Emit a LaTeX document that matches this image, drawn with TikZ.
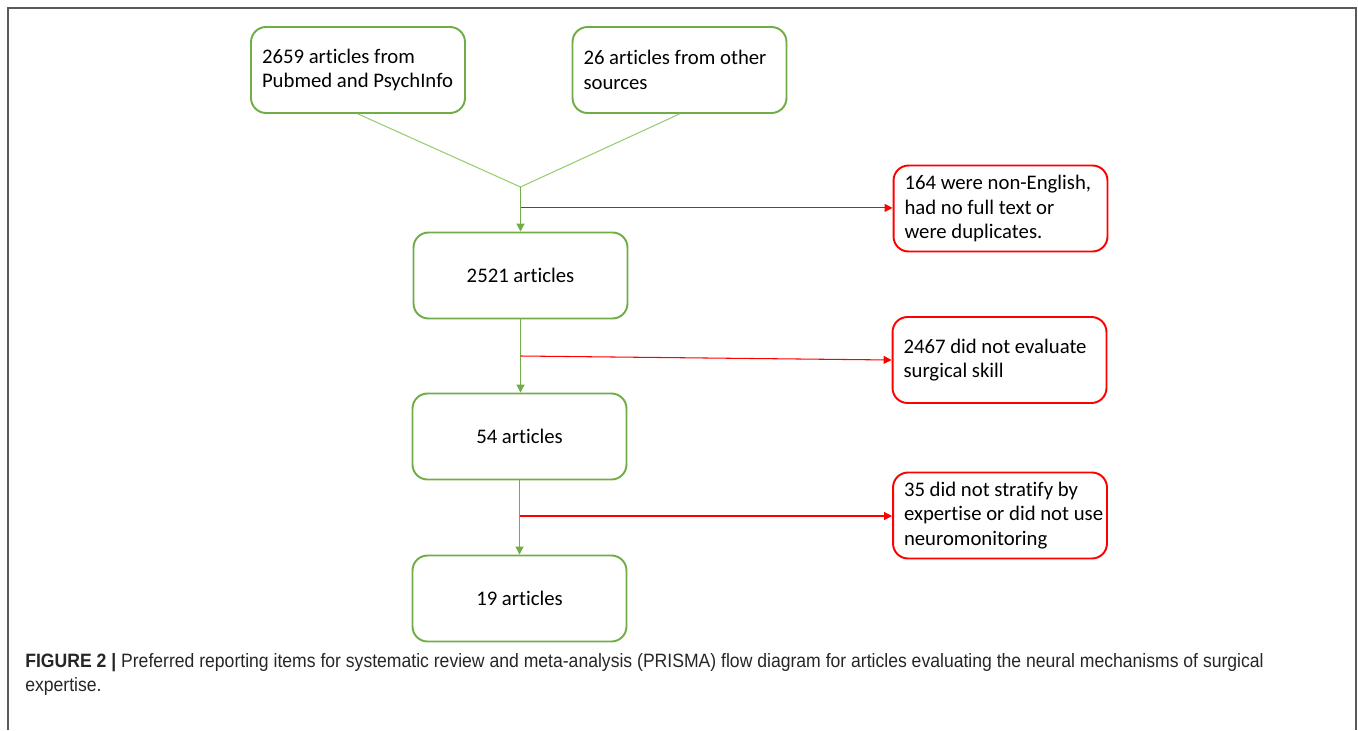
\documentclass[tikz,border=0pt]{standalone}
\usepackage{fontspec}
\setmainfont[Ligatures=NoCommon]{Carlito}
\newfontfamily\capfont[FakeStretch=0.91]{Liberation Sans}
\usetikzlibrary{arrows.meta,calc}

\definecolor{boxgreen}{RGB}{112,173,71}
\definecolor{linegreen}{RGB}{150,205,110}
\definecolor{boxred}{RGB}{255,0,0}

\begin{document}
\begin{tikzpicture}[x=0.02cm, y=-0.02cm, >={Triangle[length=4.5pt,width=4.5pt]},
    gbox/.style={draw=boxgreen, line width=1.1pt, rounded corners=0.3cm,
        minimum width=4.28cm, minimum height=1.72cm, font=\fontsize{11.8}{14.1}\selectfont},
    rbox/.style={draw=boxred, line width=1.1pt, rounded corners=0.3cm,
        minimum width=4.28cm, minimum height=1.72cm, text width=3.84cm, align=flush left,
        inner xsep=0.22cm, font=\fontsize{11.8}{14.1}\selectfont},
    gline/.style={draw=linegreen, line width=0.6pt},
    garrow/.style={draw=boxgreen, line width=0.6pt, ->, color=boxgreen},
    rarrow/.style={draw=boxred, line width=0.6pt, ->, color=boxred}]
    % Page and frame
    \useasboundingbox (0,0) rectangle (1358,730);
    \draw[black!65, line width=0.8pt] (8,730) -- (8,8) -- (1356,8) -- (1356,730);

    % Sources
    \node[gbox, text width=3.84cm, align=flush left, inner xsep=0.22cm] (pubmed) at (358,70)
        {2659 articles from\\Pubmed and PsychInfo};
    \node[gbox, text width=3.84cm, align=flush left, inner xsep=0.22cm] (other) at (679.5,70)
        {26 articles from other\\sources};

    % Main column
    \node[gbox] (screened) at (520.5,275.5) {2521 articles};
    \node[gbox] (eligible) at (519.5,436.5) {54 articles};
    \node[gbox] (included) at (519.5,598.5) {19 articles};

    % Exclusions
    \node[rbox] (excl1) at (1000.5,208.5) {164 were non-English,\\had no full text or\\were duplicates.};
    \node[rbox] (excl2) at (999.5,360) {2467 did not evaluate\\surgical skill};
    \node[rbox] (excl3) at (1000,515.5) {35 did not stratify by\\\mbox{expertise or did not use}\\neuromonitoring};

    % Merge of the two sources
    \coordinate (merge) at (520.5,187);
    \draw[gline] (pubmed.south) -- (merge) -- (other.south);
    \draw[garrow] (merge) -- (screened.north);

    % Flow down
    \draw[garrow] (screened.south) -- (screened.south |- eligible.north);
    \draw[garrow] (eligible.south) -- (eligible.south |- included.north);

    % Branches to exclusions
    \coordinate (split1) at ($(merge)!0.47!(screened.north)$);
    \coordinate (split2) at ($(screened.south)!0.5!(screened.south |- eligible.north)$);
    \coordinate (split3) at ($(eligible.south)!0.48!(included.north)$);
    \draw[rarrow] (split1) -- (split1 -| excl1.west);
    \draw[rarrow] (split2) -- (excl2.west);
    \draw[rarrow] (split3) -- (split3 -| excl3.west);

    % Caption
    \node[anchor=north west, inner sep=0, align=left, text=black!85,
        font=\capfont\fontsize{11}{13.8}\selectfont] (caption) at (25,653)
        {\textbf{FIGURE 2 |} Preferred reporting items for systematic review and meta-analysis (PRISMA) flow diagram for articles evaluating the neural mechanisms of surgical\\expertise.};
\end{tikzpicture}
\end{document}
